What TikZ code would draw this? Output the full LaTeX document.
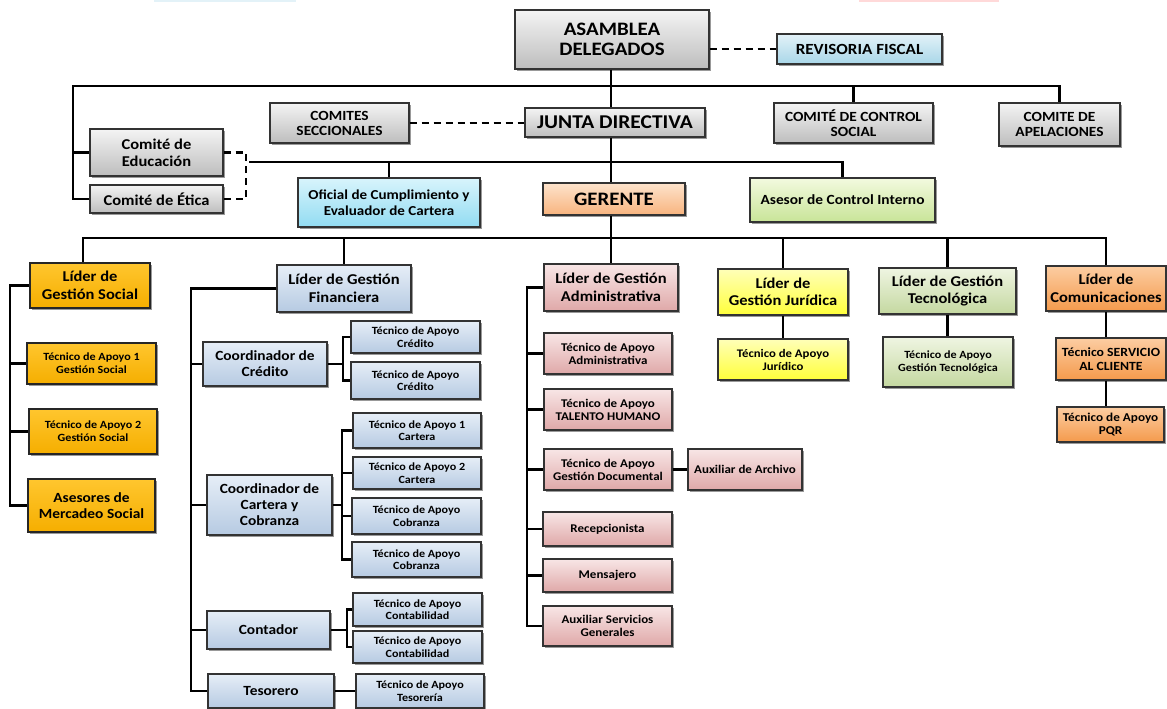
\documentclass[tikz,border=0pt]{standalone}
\usepackage{fontspec}
\setmainfont{Carlito}[FakeStretch=1.1]
\usetikzlibrary{shadows}
\definecolor{grT}{HTML}{F4F4F4}\definecolor{grB}{HTML}{BDBDBD}
\definecolor{rvT}{HTML}{E3F2F8}\definecolor{rvB}{HTML}{A8D6E8}
\definecolor{ofT}{HTML}{D8F4FC}\definecolor{ofB}{HTML}{92DCF2}
\definecolor{geT}{HTML}{FDE3CC}\definecolor{geB}{HTML}{F8B47E}
\definecolor{asT}{HTML}{F3FADF}\definecolor{asB}{HTML}{C8E498}
\definecolor{soT}{HTML}{FFC62E}\definecolor{soB}{HTML}{F5AE00}
\definecolor{fiT}{HTML}{E6EEF7}\definecolor{fiB}{HTML}{B6CAE2}
\definecolor{adT}{HTML}{F8E6E6}\definecolor{adB}{HTML}{DFA8A8}
\definecolor{juT}{HTML}{FFFFB8}\definecolor{juB}{HTML}{FFFF3A}
\definecolor{teT}{HTML}{EFF5E2}\definecolor{teB}{HTML}{C4D8A0}
\definecolor{coT}{HTML}{FCCDA2}\definecolor{coB}{HTML}{F49A4C}
\definecolor{bord}{HTML}{333333}
\newcommand\mkbox[7]{\node[bx,#6,minimum width={(#4-#2)*1pt},minimum height={(#5-#3)*1pt}] (#1) at ({(#2+#4)/2},{(#3+#5)/2}) {#7};}
\begin{document}
\begin{tikzpicture}[x=1pt,y=-1pt,
  bx/.style={draw=bord,line width=1.3pt,align=center,inner sep=0.5pt,
    drop shadow={shadow xshift=1.8pt,shadow yshift=-1.8pt,opacity=0.4,fill=black}},
  fnt/.style 2 args={font=\fontsize{#1}{#2}\selectfont\bfseries},
  gray/.style={top color=grT,bottom color=grB},
  rev/.style={top color=rvT,bottom color=rvB},
  ofi/.style={top color=ofT,bottom color=ofB},
  ger/.style={top color=geT,bottom color=geB},
  ase/.style={top color=asT,bottom color=asB},
  soc/.style={top color=soT,bottom color=soB,draw=black!85},
  fin/.style={top color=fiT,bottom color=fiB},
  adm/.style={top color=adT,bottom color=adB},
  jur/.style={top color=juT,bottom color=juB},
  tec/.style={top color=teT,bottom color=teB},
  com/.style={top color=coT,bottom color=coB},
  ln/.style={line width=2.6pt,black},
  dsh/.style={line width=2.6pt,black,dash pattern=on 7pt off 5pt}]
\useasboundingbox (0,0) rectangle (1167,709);
\fill[rvT] (154,0) rectangle (296,2);
\fill[red!15] (859,0) rectangle (999,2);
% top level
\mkbox{asam}{515}{10}{709}{69}{gray,fnt={19}{20.5}}{ASAMBLEA\\DELEGADOS}
\mkbox{rev}{777}{34}{942}{64}{rev,fnt={15.5}{17}}{REVISORIA FISCAL}
\mkbox{secc}{270}{103}{409}{143}{gray,fnt={14}{15}}{COMITES\\SECCIONALES}
\mkbox{junta}{525}{108}{705}{137}{gray,fnt={19.5}{21}}{JUNTA DIRECTIVA}
\mkbox{ctrl}{774}{103}{933}{143}{gray,fnt={14}{15}}{COMITÉ DE CONTROL\\SOCIAL}
\mkbox{apel}{999}{103}{1120}{146}{gray,fnt={14}{15}}{COMITE DE\\APELACIONES}
\mkbox{educ}{90}{129}{223}{176}{gray,fnt={15}{17}}{Comité de\\Educación}
\mkbox{etica}{90}{185}{223}{213}{gray,fnt={15}{17}}{Comité de Ética}
\mkbox{ofic}{298}{178}{480}{227}{ofi,fnt={13.7}{16}}{Oficial de Cumplimiento y\\Evaluador de Cartera}
\mkbox{ger}{543}{183}{685}{215}{ger,fnt={19}{21}}{GERENTE}
\mkbox{ases}{750}{178}{935}{222}{ase,fnt={14}{16}}{Asesor de Control Interno}
% leaders
\mkbox{social}{30}{263}{150}{308}{soc,fnt={15}{17.5}}{Líder de\\Gestión Social}
\mkbox{fin}{277}{265}{411}{312}{fin,fnt={15}{17.5}}{Líder de Gestión\\Financiera}
\mkbox{adm}{544}{264}{678}{311}{adm,fnt={15}{17.5}}{Líder de Gestión\\Administrativa}
\mkbox{jur}{718}{269}{848}{315}{jur,fnt={15}{17.5}}{Líder de\\Gestión Jurídica}
\mkbox{tec}{879}{268}{1016}{314}{tec,fnt={15}{17.5}}{Líder de Gestión\\Tecnológica}
\mkbox{comu}{1046}{266}{1166}{311}{com,fnt={15}{17.5}}{Líder de\\Comunicaciones}
% social
\mkbox{tgs1}{27}{343}{156}{384}{soc,fnt={11}{13}}{Técnico de Apoyo 1\\Gestión Social}
\mkbox{tgs2}{29}{409}{157}{454}{soc,fnt={11}{13}}{Técnico de Apoyo 2\\Gestión Social}
\mkbox{merc}{28}{479}{155}{532}{soc,fnt={14}{16.5}}{Asesores de\\Mercadeo Social}
% financiera
\mkbox{cc}{203}{342}{327}{386}{fin,fnt={14}{16}}{Coordinador de\\Crédito}
\mkbox{tc1}{351}{321}{480}{353}{fin,fnt={11}{12.5}}{Técnico de Apoyo\\Crédito}
\mkbox{tc2}{351}{362}{480}{399}{fin,fnt={11}{12.5}}{Técnico de Apoyo\\Crédito}
\mkbox{ccar}{207}{475}{332}{535}{fin,fnt={14}{16}}{Coordinador de\\Cartera y\\Cobranza}
\mkbox{tca1}{353}{413}{481}{448}{fin,fnt={11}{12.5}}{Técnico de Apoyo 1\\Cartera}
\mkbox{tca2}{353}{457}{481}{489}{fin,fnt={11}{12.5}}{Técnico de Apoyo 2\\Cartera}
\mkbox{tco1}{352}{498}{481}{534}{fin,fnt={11}{12.5}}{Técnico de Apoyo\\Cobranza}
\mkbox{tco2}{352}{542}{481}{577}{fin,fnt={11}{12.5}}{Técnico de Apoyo\\Cobranza}
\mkbox{cont}{207}{611}{330}{649}{fin,fnt={14}{16}}{Contador}
\mkbox{tct1}{353}{593}{482}{626}{fin,fnt={11}{12.5}}{Técnico de Apoyo\\Contabilidad}
\mkbox{tct2}{353}{631}{482}{663}{fin,fnt={11}{12.5}}{Técnico de Apoyo\\Contabilidad}
\mkbox{tes}{208}{674}{334}{708}{fin,fnt={14}{16}}{Tesorero}
\mkbox{ttes}{356}{674}{484}{708}{fin,fnt={11}{12.5}}{Técnico de Apoyo\\Tesorería}
% administrativa
\mkbox{tadm}{544}{333}{672}{374}{adm,fnt={11.8}{13}}{Técnico de Apoyo\\Administrativa}
\mkbox{ttal}{544}{389}{672}{430}{adm,fnt={11.8}{13}}{Técnico de Apoyo\\TALENTO HUMANO}
\mkbox{tgd}{544}{449}{672}{490}{adm,fnt={11.8}{13}}{Técnico de Apoyo\\Gestión Documental}
\mkbox{aux}{688}{449}{802}{490}{adm,fnt={11.8}{13}}{Auxiliar de Archivo}
\mkbox{rec}{543}{512}{672}{546}{adm,fnt={11.8}{13}}{Recepcionista}
\mkbox{men}{543}{559}{672}{592}{adm,fnt={11.8}{13}}{Mensajero}
\mkbox{asg}{543}{606}{672}{646}{adm,fnt={11.8}{13}}{Auxiliar Servicios\\Generales}
% others
\mkbox{tjur}{718}{339}{848}{380}{jur,fnt={11.6}{13}}{Técnico de Apoyo\\Jurídico}
\mkbox{ttec}{883}{337}{1013}{387}{tec,fnt={11}{12.5}}{Técnico de Apoyo\\Gestión Tecnológica}
\mkbox{tsc}{1056}{338}{1166}{380}{com,fnt={12.5}{13.5}}{Técnico SERVICIO\\AL CLIENTE}
\mkbox{tpqr}{1057}{407}{1164}{442}{com,fnt={12}{13.5}}{Técnico de Apoyo\\PQR}
% coordinates
\coordinate (m) at (611,0);
\coordinate (b1) at (73,86);
\coordinate (b2) at (249,162);
\coordinate (b3) at (83,238);
\coordinate (db) at (246,0);
\coordinate (gs) at (10,0);
\coordinate (gf) at (191,0);
\coordinate (cs) at (343,0);
\coordinate (ks) at (342,0);
\coordinate (ns) at (347,0);
\coordinate (ga) at (527,0);
% connectors
\draw[ln] (m |- asam.south) -- (m |- junta.north);
\draw[dsh] (asam.east |- rev.west) -- (rev.west);
\draw[ln] (educ.west) -- (educ.west -| b1);
\draw[ln] (etica.west) -| (b1) -- (apel.north |- b1) -- (apel.north);
\draw[ln] (ctrl.north |- b1) -- (ctrl.north);
\draw[dsh] (secc.east) -- (secc.east -| junta.west);
\draw[dsh] (educ.east) -| (db |- etica.east) -- (etica.east);
\draw[ln] (m |- junta.south) -- (m |- ger.north);
\draw[ln] (b2) -- (ases.north |- b2) -- (ases.north);
\draw[ln] (ofic.north |- b2) -- (ofic.north);
\draw[ln] (m |- ger.south) -- (m |- b3);
\draw[ln] (b3 |- social.north) -- (b3) -- (comu.north |- b3) -- (comu.north);
\draw[ln] (fin.north |- b3) -- (fin.north);
\draw[ln] (adm.north |- b3) -- (adm.north);
\draw[ln] (jur.north |- b3) -- (jur.north);
\draw[ln] (tec.north |- b3) -- (tec.north);
% social group
\draw[ln] (social.west) -| (gs |- merc.west) -- (merc.west);
\draw[ln] (gs |- tgs1.west) -- (tgs1.west);
\draw[ln] (gs |- tgs2.west) -- (tgs2.west);
% financiera group
\draw[ln] (fin.west) -| (gf |- tes.west) -- (tes.west);
\draw[ln] (gf |- cc.west) -- (cc.west);
\draw[ln] (gf |- ccar.west) -- (ccar.west);
\draw[ln] (gf |- cont.west) -- (cont.west);
\draw[ln] (cc.east) -- (cs |- cc.east);
\draw[ln] (tc1.west) -- (cs |- tc1.west) -- (cs |- tc2.west) -- (tc2.west);
\draw[ln] (ccar.east) -- (ks |- ccar.east);
\draw[ln] (tca1.west) -- (ks |- tca1.west) -- (ks |- tco2.west) -- (tco2.west);
\draw[ln] (ks |- tca2.west) -- (tca2.west);
\draw[ln] (ks |- tco1.west) -- (tco1.west);
\draw[ln] (cont.east) -- (ns |- cont.east);
\draw[ln] (tct1.west) -- (ns |- tct1.west) -- (ns |- tct2.west) -- (tct2.west);
\draw[ln] (tes.east) -- (ttes.west);
% administrativa group
\draw[ln] (adm.west) -| (ga |- asg.west) -- (asg.west);
\draw[ln] (ga |- tadm.west) -- (tadm.west);
\draw[ln] (ga |- ttal.west) -- (ttal.west);
\draw[ln] (ga |- tgd.west) -- (tgd.west);
\draw[ln] (ga |- rec.west) -- (rec.west);
\draw[ln] (ga |- men.west) -- (men.west);
\draw[ln] (tgd.east) -- (aux.west);
% others
\draw[ln] (jur.south) -- (tjur.north);
\draw[ln] (tec.south) -- (tec.south |- ttec.north);
\draw[ln] (comu.south) -- (comu.south |- tsc.north);
\draw[ln] (comu.south |- tsc.south) -- (comu.south |- tpqr.north);
\end{tikzpicture}
\end{document}
